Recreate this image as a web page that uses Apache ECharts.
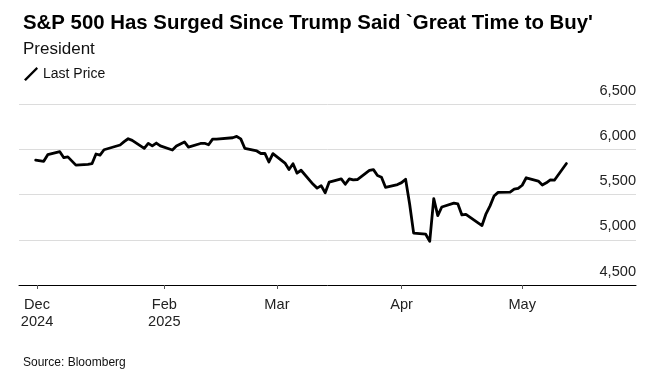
<!DOCTYPE html>
<html><head><meta charset="utf-8">
<script src="https://cdn.jsdelivr.net/npm/echarts@6/dist/echarts.min.js"></script>
<style>html,body{margin:0;padding:0;background:#fff}#c{width:660px;height:381px}</style>
</head><body><div id="c"></div>
<script>
const titleText = "S&P 500 Has Surged Since Trump Said `Great Time to Buy'";
const subtitleText = "President";
const sourceText = "Source: Bloomberg";
const seriesName = "Last Price";

const dates = [
 '2024-12-31','2025-01-02','2025-01-03','2025-01-06','2025-01-07','2025-01-08','2025-01-10','2025-01-13','2025-01-14','2025-01-15',
 '2025-01-16','2025-01-17','2025-01-21','2025-01-22','2025-01-23','2025-01-24','2025-01-27','2025-01-28','2025-01-29','2025-01-30',
 '2025-01-31','2025-02-03','2025-02-04','2025-02-05','2025-02-06','2025-02-07','2025-02-10','2025-02-11','2025-02-12','2025-02-13',
 '2025-02-14','2025-02-18','2025-02-19','2025-02-20','2025-02-21','2025-02-24','2025-02-25','2025-02-26','2025-02-27','2025-02-28',
 '2025-03-03','2025-03-04','2025-03-05','2025-03-06','2025-03-07','2025-03-10','2025-03-11','2025-03-12','2025-03-13','2025-03-14',
 '2025-03-17','2025-03-18','2025-03-19','2025-03-20','2025-03-21','2025-03-24','2025-03-25','2025-03-26','2025-03-27','2025-03-28',
 '2025-03-31','2025-04-01','2025-04-02','2025-04-03','2025-04-04','2025-04-07','2025-04-08','2025-04-09','2025-04-10','2025-04-11',
 '2025-04-14','2025-04-15','2025-04-16','2025-04-17','2025-04-21','2025-04-22','2025-04-23','2025-04-24','2025-04-25','2025-04-28',
 '2025-04-29','2025-04-30','2025-05-01','2025-05-02','2025-05-05','2025-05-06','2025-05-07','2025-05-08','2025-05-09','2025-05-12'
];
const closes = [
 5881.6,5868.6,5942.5,5975.4,5909.0,5918.3,5827.0,5836.2,5842.9,5949.9,
 5937.3,5996.7,6049.2,6086.4,6118.7,6101.2,6012.3,6067.7,6039.3,6071.2,
 6040.5,5994.6,6037.9,6061.5,6083.6,6026.0,6066.4,6068.5,6052.0,6115.1,
 6114.6,6129.6,6144.2,6117.5,6013.1,5983.3,5955.3,5956.1,5861.6,5954.5,
 5849.7,5778.2,5842.6,5738.5,5770.2,5614.6,5572.1,5599.3,5521.5,5638.9,
 5675.1,5614.7,5675.3,5662.9,5667.6,5767.6,5776.7,5712.2,5693.3,5580.9,
 5611.9,5633.1,5671.0,5396.5,5074.1,5062.3,4982.8,5456.9,5268.1,5363.4,
 5406.0,5396.6,5275.7,5282.7,5158.2,5287.8,5375.9,5484.8,5525.2,5528.8,
 5560.8,5569.1,5604.1,5686.7,5650.4,5606.9,5631.3,5663.9,5659.9,5844.2
];
const tickDates = ['2024-12-31T08:00:00Z','2025-02-01T00:00:00Z','2025-03-01T00:00:00Z','2025-04-01T00:00:00Z','2025-05-01T00:00:00Z'];
const tickLabels = ['Dec\n2024','Feb\n2025','Mar','Apr','May'];
const yMin = 4500, yMax = 6500, yStep = 500;

const DAY = 86400000;
const base = Date.UTC(2024, 11, 31);
function dayNum(s){ return (Date.parse(s.length === 10 ? s + 'T00:00:00Z' : s) - base) / DAY; }
const tickDays = tickDates.map(dayNum);
const points = dates.map((d, i) => [dayNum(d), closes[i]]);

const FONT = '"Liberation Sans", Arial, Helvetica, sans-serif';
const chart = echarts.init(document.getElementById('c'), null, {renderer: 'canvas'});
chart.setOption({
  animation: false,
  backgroundColor: '#fff',
  title: [
    {text: titleText, left: 18, top: 8, textStyle: {fontFamily: FONT, fontWeight: 'bold', fontSize: 20.4, color: '#000'}},
    {text: subtitleText, left: 18, top: 36, textStyle: {fontFamily: FONT, fontWeight: 'normal', fontSize: 17, color: '#111'}},
    {text: sourceText, left: 18, top: 352, textStyle: {fontFamily: FONT, fontWeight: 'normal', fontSize: 12, color: '#111'}}
  ],
  legend: {
    left: 19, top: 62, itemWidth: 14, itemHeight: 14, itemGap: 10,
    icon: 'path://M0,12.5 L1.8,14 L14,1.8 L12.5,0 Z',
    textStyle: {fontFamily: FONT, fontSize: 14, color: '#111'},
    data: [{name: seriesName, itemStyle: {color: '#000'}}]
  },
  grid: {left: 19, right: 24, top: 104.3, bottom: 96, containLabel: false},
  xAxis: {
    type: 'value',
    min: -4.15, max: 149.3,
    splitLine: {show: false},
    axisLine: {show: true, lineStyle: {color: '#000', width: 1}},
    axisTick: {show: true, customValues: tickDays, length: 4, lineStyle: {color: '#555'}},
    axisLabel: {
      customValues: tickDays, margin: 11,
      fontFamily: FONT, fontSize: 14.6, color: '#222', lineHeight: 17.6, align: 'center',
      formatter: function (v) {
        for (let i = 0; i < tickDays.length; i++) if (Math.abs(tickDays[i] - v) < 0.01) return tickLabels[i];
        return '';
      }
    }
  },
  yAxis: {
    type: 'value', position: 'right',
    min: yMin, max: yMax, interval: yStep,
    axisLine: {show: false}, axisTick: {show: false},
    splitLine: {show: true, lineStyle: {color: '#dcdcdc', width: 1}},
    axisLabel: {
      inside: true, margin: 0, align: 'right', verticalAlign: 'bottom', padding: [0, 0, 6, 0],
      fontFamily: FONT, fontSize: 14.6, color: '#222',
      formatter: function (v) { return v.toLocaleString('en-US'); }
    }
  },
  series: [{
    name: seriesName, type: 'line', data: points, showSymbol: false, symbol: 'none',
    lineStyle: {color: '#000', width: 2.8, join: 'round', cap: 'round'},
    itemStyle: {color: '#000'}
  }]
});
</script></body></html>
